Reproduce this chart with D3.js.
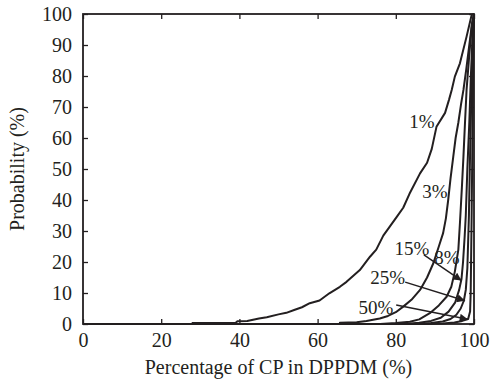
<!DOCTYPE html>
<html><head><meta charset="utf-8">
<script src="https://cdn.jsdelivr.net/npm/d3@7"></script>
<style>body{margin:0;background:#fff}svg{display:block}</style>
</head><body>
<svg id="c" width="497" height="380"></svg>
<script>
// ---- data ----
const xTicks = [0, 20, 40, 60, 80, 100];
const yTicks = [0, 10, 20, 30, 40, 50, 60, 70, 80, 90, 100];
const xTitle = "Percentage of CP in DPPDM (%)";
const yTitle = "Probability (%)";

const s1 = [[0,0],[28,0],[28,0.3],[39,0.3],[39.5,0.9],[42,1],[45,1.8],[47,2.2],[50,3.1],[52,3.6],[54,4.5],[56,5.4],[58,6.7],[60.5,7.6],[63,9.9],[65.7,12],[67.4,13.6],[70.8,17.4],[73.4,21.7],[75,24],[76.8,28.5],[78.5,31.5],[80.2,34.5],[81.9,37.5],[83.5,42],[86.2,48.6],[88,52],[89.2,56.5],[90.4,63.6],[92.6,68.1],[93.6,72.3],[94.3,75.5],[95.1,79.8],[96.4,84.1],[98.1,92.7],[99.4,99.7],[100,100]];
const s3 = [[0,0],[65.7,0],[65.7,0.4],[70,0.6],[72.5,1],[75.9,1.8],[78,2.6],[80,3.8],[81.9,5.6],[84,7.8],[86.2,11],[88,15],[89.6,19.6],[91,25],[92.1,29.3],[92.8,34],[93.4,40],[94,47],[94.7,54],[95.3,60],[96,65],[96.7,71],[97.3,75.5],[98,82],[98.7,89],[99.4,96],[100,100]];
const s8 = [[0,0],[76,0],[80,0.3],[83.6,0.7],[86,1.5],[88.7,3.5],[91,6],[93,8.8],[94.2,12],[95.1,16.9],[96,24],[96.4,32.5],[96.9,44],[97.3,54],[97.7,65],[98.1,75.5],[98.8,87],[99.5,97],[100,100]];
const s15 = [[0,0],[82,0],[86,0.4],[89,1],[91.5,2],[93.5,4],[95.2,7],[96.2,11],[96.8,14.5],[97.2,20],[97.6,28],[97.9,35],[98.3,50],[98.8,65],[99.2,80],[99.6,92],[100,100]];
const s25 = [[0,0],[86,0],[89,0.3],[92,0.8],[94,1.6],[95.5,3],[96.6,5],[97.4,7.5],[97.9,11],[98.3,18],[98.7,35],[99,55],[99.35,75],[99.7,92],[100,100]];
const s50 = [[0,0],[88,0],[92,0.2],[95,0.5],[97,1],[98.5,1.6],[99,4],[99.15,10],[99.25,20],[99.4,35],[99.6,60],[99.8,85],[100,100]];
const seriesList = [s1, s3, s8, s15, s25, s50];

// labels: [text, x, y] in data units
const plainLabels = [["1%", 86.7, 65.2], ["3%", 90.0, 42.6], ["8%", 93.1, 21.3]];
// arrow labels: [text, labelX, labelY, fromX, fromY, toX, toY]
const arrowLabels = [
  ["15%", 84.1, 24.2, 87.2, 22.3, 96.8, 14.0],
  ["25%", 77.9, 15.0, 82.4, 13.5, 97.7, 7.5],
  ["50%", 74.9, 5.3, 80.1, 6.1, 98.4, 1.5]
];

// ---- drawing ----
const ink = "#231f20";
const font = "'Liberation Serif','Times New Roman',serif";
const L = 83, R = 474, T = 14, B = 324;
const svg = d3.select("#c");
const x = d3.scaleLinear().domain([0, 100]).range([L, R]);
const y = d3.scaleLinear().domain([0, 100]).range([B, T]);

svg.append("defs").append("marker")
  .attr("id", "ah").attr("viewBox", "0 0 10 10").attr("refX", 10).attr("refY", 5)
  .attr("markerWidth", 12).attr("markerHeight", 8).attr("markerUnits", "userSpaceOnUse")
  .attr("orient", "auto")
  .append("path").attr("d", "M0,0 L10,5 L0,10 Z").attr("fill", ink);

function styleAxis(g, showText) {
  g.select(".domain").remove();
  g.selectAll("line").attr("stroke", ink).attr("stroke-width", 1.3);
  g.selectAll("text").attr("fill", ink).style("font-family", font).style("font-size", "20px");
  if (!showText) g.selectAll("text").remove();
}

svg.append("g").attr("transform", `translate(0,${B})`)
  .call(d3.axisBottom(x).tickValues(xTicks).tickSize(-5).tickPadding(9))
  .call(g => styleAxis(g, true));
svg.append("g").attr("transform", `translate(0,${T})`)
  .call(d3.axisTop(x).tickValues(xTicks).tickSize(-5))
  .call(g => styleAxis(g, false));
svg.append("g").attr("transform", `translate(${L},0)`)
  .call(d3.axisLeft(y).tickValues(yTicks).tickSize(-5).tickPadding(11))
  .call(g => styleAxis(g, true));
svg.append("g").attr("transform", `translate(${R},0)`)
  .call(d3.axisRight(y).tickValues(yTicks).tickSize(-5))
  .call(g => styleAxis(g, false));

const line = d3.line().x(d => x(d[0])).y(d => y(d[1]));
svg.append("g").selectAll("path").data(seriesList).join("path")
  .attr("d", line).attr("fill", "none").attr("stroke", ink)
  .attr("stroke-width", 2).attr("stroke-linejoin", "round");

svg.append("rect").attr("x", L).attr("y", T).attr("width", R - L).attr("height", B - T)
  .attr("fill", "none").attr("stroke", ink).attr("stroke-width", 1.8);

svg.append("g").selectAll("text").data(plainLabels).join("text")
  .attr("x", d => x(d[1])).attr("y", d => y(d[2]))
  .attr("text-anchor", "middle").attr("dominant-baseline", "central")
  .attr("fill", ink).style("font-family", font).style("font-size", "19px")
  .text(d => d[0]);

const ag = svg.append("g");
ag.selectAll("text").data(arrowLabels).join("text")
  .attr("x", d => x(d[1])).attr("y", d => y(d[2]))
  .attr("text-anchor", "middle").attr("dominant-baseline", "central")
  .attr("fill", ink).style("font-family", font).style("font-size", "19px")
  .text(d => d[0]);
ag.selectAll("line").data(arrowLabels).join("line")
  .attr("x1", d => x(d[3])).attr("y1", d => y(d[4]))
  .attr("x2", d => x(d[5])).attr("y2", d => y(d[6]))
  .attr("stroke", ink).attr("stroke-width", 1.5).attr("marker-end", "url(#ah)");

svg.append("text").attr("x", (L + R) / 2).attr("y", 374)
  .attr("text-anchor", "middle").attr("fill", ink)
  .style("font-family", font).style("font-size", "20px").text(xTitle);
svg.append("text").attr("transform", `translate(24,${(T + B) / 2}) rotate(-90)`)
  .attr("text-anchor", "middle").attr("fill", ink)
  .style("font-family", font).style("font-size", "20px").text(yTitle);
</script>
</body></html>
